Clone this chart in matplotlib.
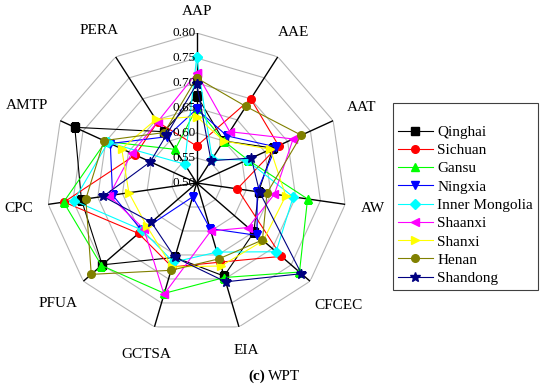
import numpy as np
import matplotlib
matplotlib.use('Agg')
import matplotlib.pyplot as plt

plt.rcParams['font.family'] = ['Liberation Serif', 'DejaVu Serif']

# Indicators, clockwise from the top
indicators = ['AAP', 'AAE', 'AAT', 'AW', 'CFCEC', 'EIA', 'GCTSA', 'PFUA', 'CPC', 'AMTP', 'PERA']
ring_levels = [0.50, 0.55, 0.60, 0.65, 0.70, 0.75, 0.80]

# Values (same order as indicators)
qinghai   = [0.675, 0.600, 0.668, 0.625, 0.651, 0.694, 0.655, 0.750, 0.733, 0.768, 0.622]
sichuan   = [0.574, 0.700, 0.680, 0.582, 0.724, 0.665, 0.675, 0.654, 0.768, 0.635, 0.645]
gansu     = [0.650, 0.600, 0.612, 0.724, 0.772, 0.697, 0.730, 0.752, 0.769, 0.700, 0.580]
ningxia   = [0.648, 0.612, 0.674, 0.622, 0.660, 0.595, 0.529, 0.645, 0.670, 0.690, 0.610]
inner_mon = [0.752, 0.557, 0.610, 0.695, 0.710, 0.644, 0.665, 0.644, 0.748, 0.695, 0.545]
shaanxi   = [0.720, 0.622, 0.712, 0.657, 0.636, 0.600, 0.732, 0.640, 0.677, 0.643, 0.645]
shanxi    = [0.633, 0.600, 0.662, 0.680, 0.676, 0.673, 0.675, 0.632, 0.637, 0.665, 0.651]
henan     = [0.710, 0.682, 0.730, 0.642, 0.674, 0.658, 0.682, 0.779, 0.724, 0.704, 0.620]
shandong  = [0.698, 0.553, 0.620, 0.627, 0.777, 0.706, 0.655, 0.620, 0.689, 0.602, 0.613]

series = [
    ('Qinghai', qinghai, 'black', 's'),
    ('Sichuan', sichuan, '#ff0000', 'o'),
    ('Gansu', gansu, '#00ff00', '^'),
    ('Ningxia', ningxia, '#0000ff', 'v'),
    ('Inner Mongolia', inner_mon, '#00ffff', 'D'),
    ('Shaanxi', shaanxi, '#ff00ff', '<'),
    ('Shanxi', shanxi, '#ffff00', '>'),
    ('Henan', henan, '#808000', 'o'),
    ('Shandong', shandong, '#000080', '*'),
]

fig = plt.figure(figsize=(5.5, 3.86), dpi=100)
ax = fig.add_axes([46.7 / 550, 53 / 386, 300 / 550, 300 / 386], projection='polar')
ax.set_theta_offset(np.pi / 2)
ax.set_theta_direction(-1)
ax.set_ylim(0.5, 0.8)
ax.grid(False)
ax.set_xticks([])
ax.set_yticks([])
ax.spines['polar'].set_visible(False)
ax.patch.set_visible(False)

n = len(indicators)
angles = np.arange(n) * 2 * np.pi / n
closed = np.append(angles, angles[0])

# polygon grid + spokes
for lvl in ring_levels[1:]:
    ax.plot(closed, [lvl] * (n + 1), color='#b5b5b5', lw=0.8, zorder=1)
for a in angles:
    ax.plot([a, a], [0.5, 0.8], color='black', lw=1.0, zorder=2)

for name, vals, col, mk in series:
    ax.plot(closed, vals + vals[:1], color=col, marker=mk, ms=5.5 if mk != '*' else 7,
            mec=col, mfc=col, lw=0.8, label=name, zorder=3)

for lvl in ring_levels:
    ax.annotate('%.2f' % lvl, xy=(0, lvl), xytext=(-1, 0), textcoords='offset points',
                ha='right', va='center', fontsize=9.5, zorder=4)

# indicator names outside the outer ring
fig.canvas.draw()
renderer = fig.canvas.get_renderer()
for a, lab in zip(angles, indicators):
    t = ax.annotate(lab, xy=(a, 0.8), xytext=(0, 0), textcoords='offset points',
                    ha='center', va='center', fontsize=11, annotation_clip=False)
    bb = t.get_window_extent(renderer)
    dx, dy = np.sin(a), np.cos(a)
    d = 15 + 0.5 * (abs(dx) * bb.width + abs(dy) * bb.height)
    t.xyann = (dx * d * 72 / 100, dy * d * 72 / 100)

leg = ax.legend(loc='upper left', bbox_to_anchor=(393 / 550, 1 - 103 / 386),
                bbox_transform=fig.transFigure, borderaxespad=0, fontsize=11,
                title=' ', title_fontsize=10, fancybox=False, edgecolor='#404040',
                framealpha=1, handlelength=2.3, handletextpad=0.3, labelspacing=0.3,
                borderpad=0.3)
leg.get_frame().set_linewidth(0.8)

fig.text(265 / 550, 1 - 376 / 386, '(c)', fontweight='bold', fontsize=11, ha='right', va='center')
fig.text(268 / 550, 1 - 376 / 386, 'WPT', fontsize=11, ha='left', va='center')

fig.savefig('out.png', dpi=100)
